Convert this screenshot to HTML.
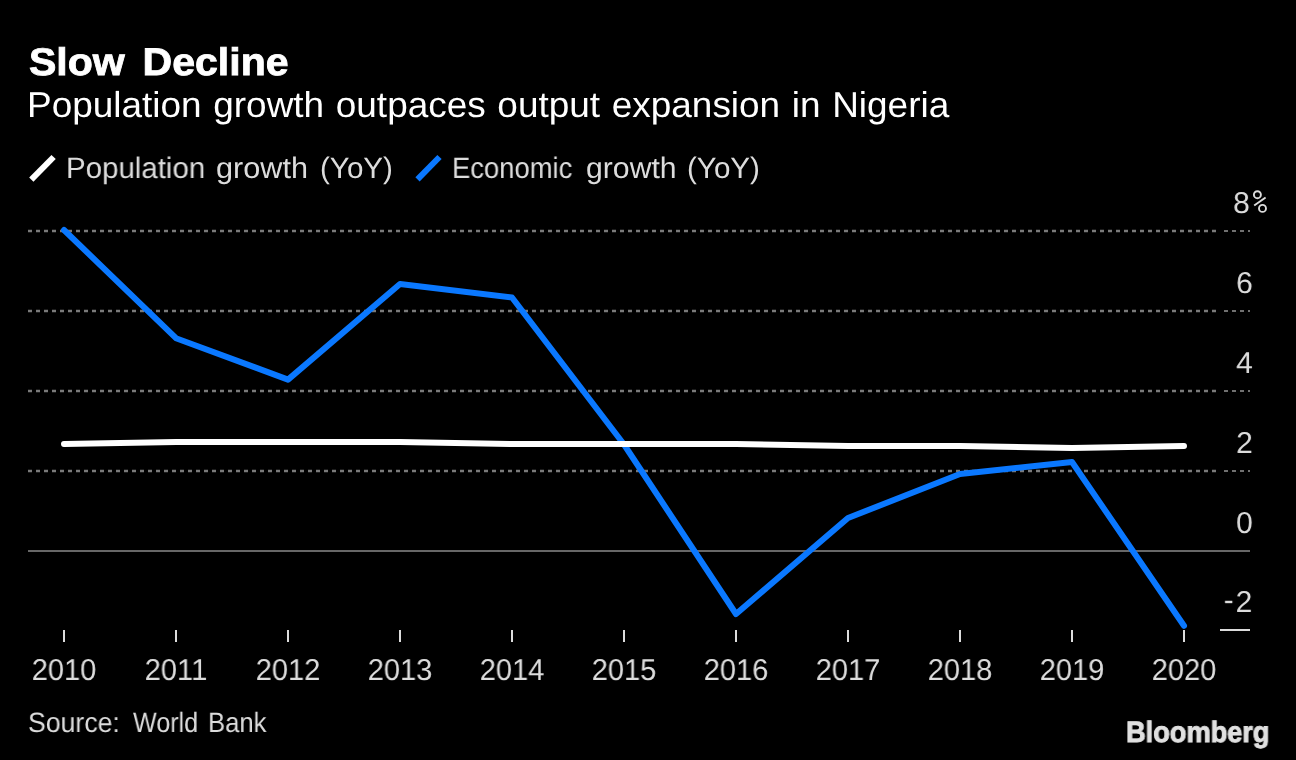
<!DOCTYPE html>
<html>
<head>
<meta charset="utf-8">
<title>Slow Decline</title>
<style>
html,body{margin:0;padding:0;background:#000;}
body{width:1296px;height:760px;position:relative;overflow:hidden;font-family:"Liberation Sans",sans-serif;}
.t{position:absolute;will-change:transform;text-rendering:geometricPrecision;white-space:nowrap;line-height:1;transform-origin:left top;color:#dcdcdc;}
#title{left:29.3px;top:43.9px;font-size:38.5px;font-weight:bold;color:#fff;transform:scaleX(1.066);word-spacing:6px;-webkit-text-stroke:0.8px #fff;}
#sub{left:27.3px;top:87.2px;font-size:36px;color:#fff;transform:scaleX(1.0265);word-spacing:1.3px;}
.lg{font-size:29.6px;top:153.8px;}
.yl{font-size:30.2px;text-align:right;transform-origin:100% 0;transform:scaleX(0.995);}
.xl{font-size:30.2px;top:656px;width:112px;text-align:center;transform-origin:50% 0;transform:scaleX(0.964);}
.src{top:709.3px;font-size:28px;}
#logo{left:1126.2px;top:718.3px;font-size:29.4px;font-weight:bold;color:#e0e0e0;letter-spacing:-0.1px;-webkit-text-stroke:0.9px #e0e0e0;transform:scaleX(0.93);}
svg{position:absolute;left:0;top:0;}
</style>
</head>
<body>
<svg width="1296" height="760" viewBox="0 0 1296 760">
  <!-- dotted gridlines -->
  <g stroke="#7a7a7a" stroke-width="2.3" stroke-dasharray="4 4" fill="none">
    <path d="M28 231H1216M28 311H1216M28 391H1216M28 471H1216"/>
    <path d="M1224 231H1250M1224 311H1250M1224 391H1250M1224 471H1250" stroke-width="1.9" stroke="#707070"/>
  </g>
  <!-- zero line -->
  <path d="M28 551H1250" stroke="#676767" stroke-width="2" fill="none"/>
  <!-- -2 tick -->
  <path d="M1220 630H1250" stroke="#dcdcdc" stroke-width="2" fill="none"/>
  <!-- x ticks -->
  <path d="M64 630v12M176 630v12M288 630v12M400 630v12M512 630v12M624 630v12M736 630v12M848 630v12M960 630v12M1072 630v12M1184 630v12" stroke="#dcdcdc" stroke-width="2" fill="none"/>
  <!-- economic growth -->
  <polyline fill="none" stroke="#0a78ff" stroke-width="6" stroke-linecap="round" stroke-linejoin="round"
    points="64,230 176,338.2 288,379.6 400,284 512,297.5 624,444.5 736,614 848,518 960,474 1072,462 1184,625.8"/>
  <!-- population growth -->
  <polyline fill="none" stroke="#ffffff" stroke-width="6" stroke-linecap="round" stroke-linejoin="round"
    points="64,444 176,442 288,442 400,442 512,444 624,444 736,444 848,446 960,446 1072,448 1184,446"/>
  <!-- percent sign -->
  <g stroke="#dcdcdc" stroke-width="1.9" fill="none">
    <ellipse cx="1257.4" cy="194.7" rx="3.5" ry="3.5"/>
    <ellipse cx="1262.5" cy="208.4" rx="3.5" ry="3.5"/>
    <path d="M1265.6 197.4L1254.2 205.6"/>
  </g>
  <!-- legend swatches -->
  <path d="M31.3 179.6L53.6 157" stroke="#ffffff" stroke-width="6" fill="none"/>
  <path d="M417.5 179.4L439.5 157" stroke="#0a78ff" stroke-width="6" fill="none"/>
</svg>

<div class="t" id="title">Slow Decline</div>
<div class="t" id="sub">Population growth outpaces output expansion in Nigeria</div>

<div class="t lg" style="left:66.2px;transform:scaleX(0.995);">Population</div>
<div class="t lg" style="left:215.75px;transform:scaleX(1.035);">growth</div>
<div class="t lg" style="left:319.6px;transform:scaleX(1.0);">(YoY)</div>
<div class="t lg" style="left:452.4px;transform:scaleX(0.9256);">Economic</div>
<div class="t lg" style="left:585.5px;transform:scaleX(1.02);">growth</div>
<div class="t lg" style="left:687.4px;transform:scaleX(1.0);">(YoY)</div>

<div class="t yl" id="y8" style="right:46.2px;top:189.0px;">8</div>
<div class="t yl" id="y6" style="right:43.6px;top:269.0px;">6</div>
<div class="t yl" id="y4" style="right:43.6px;top:349.0px;">4</div>
<div class="t yl" id="y2" style="right:43.6px;top:429.0px;">2</div>
<div class="t yl" id="y0" style="right:43.6px;top:509.0px;">0</div>
<div class="t yl" id="ym2" style="right:43.6px;top:588.4px;"><span style="position:relative;top:-2.2px;left:0.6px;margin-right:2.5px">-</span>2</div>

<div class="t xl" style="left:8px;">2010</div>
<div class="t xl" style="left:120px;">2011</div>
<div class="t xl" style="left:232px;">2012</div>
<div class="t xl" style="left:344px;">2013</div>
<div class="t xl" style="left:456px;">2014</div>
<div class="t xl" style="left:568px;">2015</div>
<div class="t xl" style="left:680px;">2016</div>
<div class="t xl" style="left:792px;">2017</div>
<div class="t xl" style="left:904px;">2018</div>
<div class="t xl" style="left:1016px;">2019</div>
<div class="t xl" style="left:1128px;">2020</div>

<div class="t src" style="left:28.0px;transform:scaleX(0.951);">Source:</div>
<div class="t src" style="left:133.2px;transform:scaleX(0.8972);">World</div>
<div class="t src" style="left:207.8px;transform:scaleX(0.9163);">Bank</div>
<div class="t" id="logo">Bloomberg</div>
</body>
</html>
